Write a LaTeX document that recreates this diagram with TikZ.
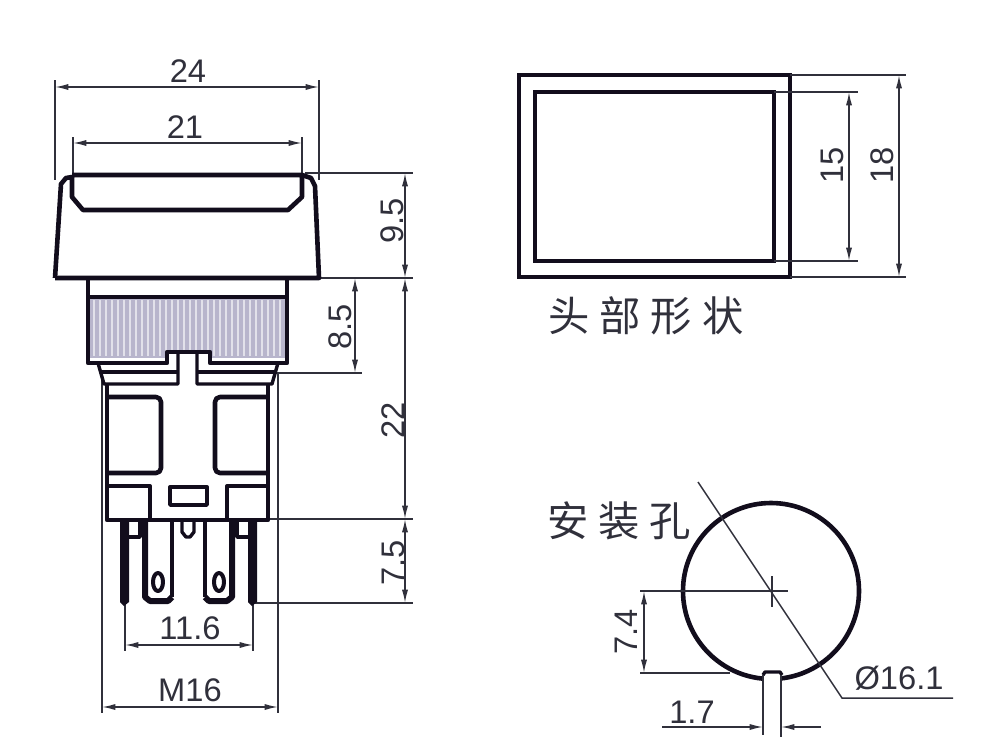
\documentclass[tikz,border=0pt]{standalone}
\usepackage{fontspec}
\setmainfont{Liberation Sans}
\newfontfamily\cjk{Noto Sans CJK SC}
\usetikzlibrary{arrows.meta}
\newlength{\du}
\setlength{\du}{0.75pt}
\definecolor{dialinecolor}{rgb}{0.07, 0.05, 0.11}
\definecolor{dimcolor}{rgb}{0.19, 0.19, 0.23}
\definecolor{knurlcolor}{rgb}{0.72, 0.71, 0.80}
\tikzset{
  >={Latex[length=10pt,width=4.6pt]},
  thickline/.style={draw=dialinecolor,line width=4.6\du,line join=round},
  midline/.style={draw=dialinecolor,line width=3.4\du,line join=round},
  extline/.style={draw=dimcolor,line width=1.5\du},
  dimline/.style={draw=dimcolor,line width=1.5\du,<->},
  dimend/.style={draw=dimcolor,line width=1.5\du,->},
  dimtext/.style={text=dimcolor,font=\fontsize{24.5}{24.5}\selectfont,inner sep=0pt},
  cjktext/.style={text=dimcolor,font=\cjk\fontsize{31}{31}\selectfont,inner sep=0pt}
}
\begin{document}
\begin{tikzpicture}
\pgftransformxscale{1.000000}
\pgftransformyscale{-1.000000}
\useasboundingbox (0\du,0\du) rectangle (1000\du,754\du);
% extension lines
\draw[extline] (55\du,80\du)--(55\du,180\du);
\draw[extline] (319\du,80\du)--(319\du,180\du);
\draw[extline] (73\du,137\du)--(73\du,176\du);
\draw[extline] (302\du,137\du)--(302\du,176\du);
\draw[extline] (305\du,173\du)--(413\du,173\du);
\draw[extline] (319\du,278\du)--(413\du,278\du);
\draw[extline] (276\du,373\du)--(362\du,373\du);
\draw[extline] (270\du,519\du)--(413\du,519\du);
\draw[extline] (255\du,603\du)--(413\du,603\du);
\draw[extline] (102\du,372\du)--(102\du,713\du);
\draw[extline] (278\du,372\du)--(278\du,713\du);
\draw[extline] (125\du,603\du)--(125\du,651\du);
\draw[extline] (253\du,603\du)--(253\du,651\du);
% head
\fill[white] (55\du,278\du)--(60\du,182\du)--(65\du,177\du)--(312\du,177\du)--(319\du,278\du)--cycle;
\draw[thickline] (55\du,278\du)--(61\du,184\du)--(66\du,178\du)--(72\du,177\du)--(72\du,197\du)--(83\du,210\du)--(288\du,210\du)--(302\du,197\du)--(302\du,175\du)--(72\du,175\du);
\draw[thickline] (302\du,175\du)--(311\du,178\du)--(315\du,186\du)--(319\du,278\du)--(55\du,278\du);
% collar
\fill[knurlcolor] (90\du,297\du) rectangle (285\du,358\du);
\foreach \x in {94,100,...,284} {
  \draw[white,opacity=0.6,line width=1.2\du] (\x\du,300\du)--(\x\du,356\du);
}
\fill[white] (168\du,352\du) rectangle (210\du,366\du);
\draw[thickline] (88\du,278\du)--(88\du,363\du)--(167\du,363\du)--(167\du,352\du)--(210\du,352\du)--(210\du,363\du)--(287\du,363\du)--(287\du,278\du);
\draw[thickline] (88\du,297\du)--(287\du,297\du);
% body
\draw[midline] (98\du,363\du)--(104\du,384\du)--(178\du,384\du)--(178\du,352\du);
\draw[midline] (278\du,363\du)--(272\du,384\du)--(197\du,384\du)--(197\du,352\du);
\draw[midline] (102\du,372\du)--(178\du,372\du);
\draw[midline] (197\du,372\du)--(274\du,372\du);
\draw[thickline] (107\du,384\du)--(107\du,520\du)--(268\du,520\du)--(268\du,384\du);
\draw[thickline,rounded corners=5\du] (107\du,397\du)--(161\du,397\du)--(161\du,473\du)--(107\du,473\du);
\draw[thickline,rounded corners=5\du] (268\du,397\du)--(215\du,397\du)--(215\du,473\du)--(268\du,473\du);
\draw[midline] (107\du,486\du)--(150\du,486\du)--(150\du,520\du);
\draw[midline] (268\du,486\du)--(227\du,486\du)--(227\du,520\du);
\draw[midline] (170\du,487\du) rectangle (207\du,505\du);
% terminals
\fill[dialinecolor] (120\du,520\du)--(129\du,520\du)--(129\du,602\du)--(124\du,606\du)--(120\du,602\du)--cycle;
\fill[dialinecolor] (248\du,520\du)--(257\du,520\du)--(257\du,602\du)--(252\du,606\du)--(248\du,602\du)--cycle;
\draw[midline] (128\du,537\du)--(140\du,537\du)--(140\du,520\du);
\draw[midline] (248\du,537\du)--(237\du,537\du)--(237\du,520\du);
\draw[thickline,line width=6\du] (145\du,520\du)--(145\du,597\du)--(150\du,601\du)--(168\du,601\du)--(172\du,597\du);
\draw[midline] (172\du,597\du)--(172\du,520\du);
\draw[thickline,line width=6\du] (232\du,520\du)--(232\du,597\du)--(227\du,601\du)--(209\du,601\du)--(205\du,597\du);
\draw[midline] (205\du,597\du)--(205\du,520\du);
\draw[midline,line width=4\du] (158\du,582\du) ellipse [x radius=5\du,y radius=9\du];
\draw[midline,line width=4\du] (219\du,582\du) ellipse [x radius=5\du,y radius=9\du];
\draw[midline] (182\du,520\du)--(182\du,532\du)--(186\du,537\du)--(190\du,537\du)--(194\du,532\du)--(194\du,520\du);
% dimensions of the side view
\draw[dimline] (55\du,87\du)--(319\du,87\du);
\node[dimtext] (w24) at (188\du,71\du){24};
\draw[dimline] (73\du,143\du)--(302\du,143\du);
\node[dimtext] (w21) at (185\du,127\du){21};
\draw[dimline] (405\du,173\du)--(405\du,278\du);
\node[dimtext,rotate=90] (h95) at (392\du,221\du){9.5};
\draw[dimline] (355\du,278\du)--(355\du,373\du);
\node[dimtext,rotate=90] (h85) at (340\du,327\du){8.5};
\draw[dimline] (405\du,278\du)--(405\du,519\du);
\node[dimtext,rotate=90] (h22) at (393\du,420\du){22};
\draw[dimline] (405\du,519\du)--(405\du,603\du);
\node[dimtext,rotate=90] (h75) at (393\du,563\du){7.5};
\draw[dimline] (125\du,645\du)--(253\du,645\du);
\node[dimtext] (w116) at (190\du,628\du){11.6};
\draw[dimline] (102\du,707\du)--(278\du,707\du);
\node[dimtext] (m16) at (190\du,690\du){M16};
% head shape
\draw[thickline,line join=miter] (519\du,75\du) rectangle (790\du,277\du);
\draw[thickline,line join=miter] (535\du,92\du) rectangle (774\du,261\du);
\draw[extline] (790\du,75\du)--(906\du,75\du);
\draw[extline] (790\du,277\du)--(906\du,277\du);
\draw[extline] (774\du,92\du)--(858\du,92\du);
\draw[extline] (774\du,261\du)--(858\du,261\du);
\draw[dimline] (849\du,92\du)--(849\du,261\du);
\node[dimtext,rotate=90] (h15) at (832\du,165\du){15};
\draw[dimline] (899\du,75\du)--(899\du,277\du);
\node[dimtext,rotate=90] (h18) at (882\du,165\du){18};
\node[cjktext,text width=195\du] (headshape) at (646\du,316\du){头\hfill 部\hfill 形\hfill 状};
% mounting hole
\node[cjktext,text width=143\du] (holetext) at (619\du,521\du){安\hfill 装\hfill 孔};
\draw[thickline] (771\du,591\du) circle [radius=88\du];
\fill[white] (764\du,674\du) rectangle (781\du,690\du);
\draw[midline] (763\du,675\du)--(765\du,672\du)--(780\du,672\du)--(782\du,675\du);
\draw[extline,line width=1.8\du] (763\du,675\du)--(763\du,735\du);
\draw[extline,line width=1.8\du] (781\du,675\du)--(781\du,737\du);
\draw[extline] (698\du,482\du)--(842\du,698\du)--(953\du,698\du);
\draw[extline] (640\du,591\du)--(788\du,591\du);
\draw[extline] (772\du,576\du)--(772\du,607\du);
\draw[extline] (640\du,673\du)--(730\du,673\du);
\draw[dimline] (644\du,591\du)--(644\du,673\du);
\node[dimtext,rotate=90] (h74) at (626\du,632\du){7.4};
\draw[dimend] (662\du,727\du)--(763\du,727\du);
\draw[dimend] (821\du,727\du)--(781\du,727\du);
\node[dimtext] (w17) at (692\du,712\du){1.7};
\node[dimtext] (dia) at (899\du,678\du){Ø16.1};
\end{tikzpicture}
\end{document}
